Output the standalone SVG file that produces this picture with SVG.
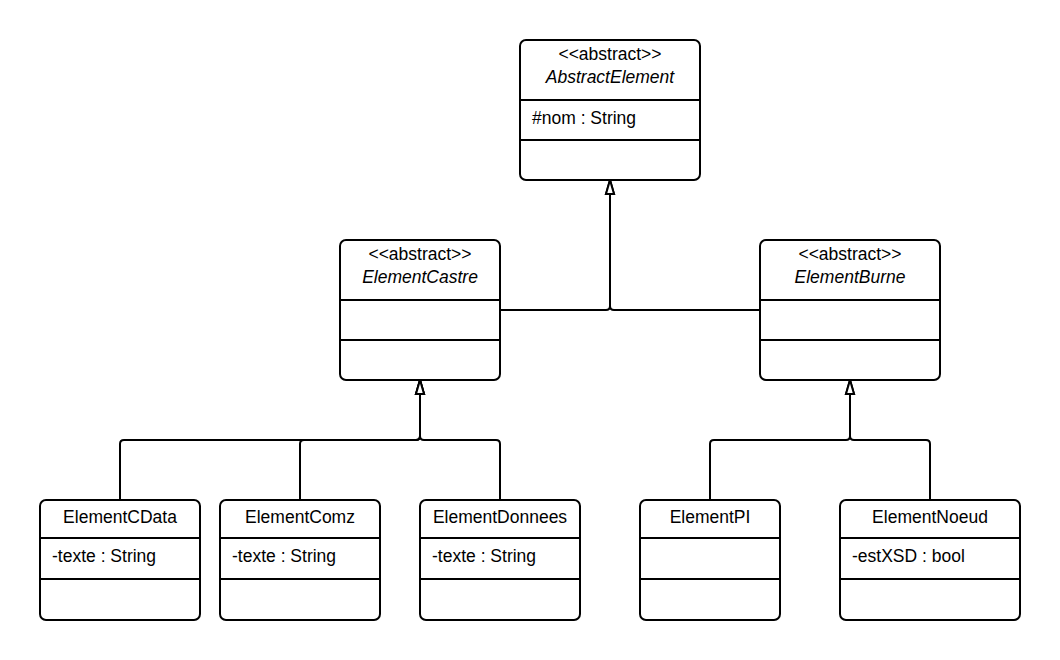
<svg xmlns="http://www.w3.org/2000/svg" width="1060" height="660" viewBox="0 0 1060 660">
<style>
.box{fill:#fff;stroke:#000;stroke-width:2}
.div{stroke:#000;stroke-width:2}
.t{font-family:"Liberation Sans",Arial,sans-serif;font-size:17.5px;fill:#000}
.c{text-anchor:middle}
.i{font-style:italic}
.conn{fill:none;stroke:#000;stroke-width:2}
</style>
<defs>
<marker id="gen" markerUnits="userSpaceOnUse" markerWidth="20" markerHeight="14" viewBox="-2 -7 20 14" refX="16" refY="0" orient="auto">
<path d="M16 0 L2 -4 L2 4 Z" fill="#fff" stroke="#000" stroke-width="2" stroke-linejoin="miter"/>
</marker>
</defs>
<g id="connectors">
<path class="conn" d="M500 310 H606 Q610 310 610 306 V180" marker-end="url(#gen)"/>
<path class="conn" d="M760 310 H614 Q610 310 610 306 V180" marker-end="url(#gen)"/>
<path class="conn" d="M120 500 V444 Q120 440 124 440 H416 Q420 440 420 436 V380" marker-end="url(#gen)"/>
<path class="conn" d="M300 500 V444 Q300 440 304 440 H416 Q420 440 420 436 V380" marker-end="url(#gen)"/>
<path class="conn" d="M500 500 V444 Q500 440 496 440 H424 Q420 440 420 436 V380" marker-end="url(#gen)"/>
<path class="conn" d="M710 500 V444 Q710 440 714 440 H846 Q850 440 850 436 V380" marker-end="url(#gen)"/>
<path class="conn" d="M930 500 V444 Q930 440 926 440 H854 Q850 440 850 436 V380" marker-end="url(#gen)"/>
</g>
<g id="AbstractElement">
<rect class="box" x="520" y="40" width="180" height="140" rx="6"/>
<line class="div" x1="520" y1="100" x2="700" y2="100"/>
<line class="div" x1="520" y1="140" x2="700" y2="140"/>
<text class="t c" x="610" y="60">&lt;&lt;abstract&gt;&gt;</text>
<text class="t c i" x="610" y="83">AbstractElement</text>
<text class="t" x="532" y="124">#nom : String</text>
</g>
<g id="ElementCastre">
<rect class="box" x="340" y="240" width="160" height="140" rx="6"/>
<line class="div" x1="340" y1="300" x2="500" y2="300"/>
<line class="div" x1="340" y1="340" x2="500" y2="340"/>
<text class="t c" x="420" y="260">&lt;&lt;abstract&gt;&gt;</text>
<text class="t c i" x="420" y="283">ElementCastre</text>
</g>
<g id="ElementBurne">
<rect class="box" x="760" y="240" width="180" height="140" rx="6"/>
<line class="div" x1="760" y1="300" x2="940" y2="300"/>
<line class="div" x1="760" y1="340" x2="940" y2="340"/>
<text class="t c" x="850" y="260">&lt;&lt;abstract&gt;&gt;</text>
<text class="t c i" x="850" y="283">ElementBurne</text>
</g>
<g id="ElementCData">
<rect class="box" x="40" y="500" width="160" height="120" rx="6"/>
<line class="div" x1="40" y1="538" x2="200" y2="538"/>
<line class="div" x1="40" y1="579" x2="200" y2="579"/>
<text class="t c" x="120" y="523">ElementCData</text>
<text class="t" x="52" y="562">-texte : String</text>
</g>
<g id="ElementComz">
<rect class="box" x="220" y="500" width="160" height="120" rx="6"/>
<line class="div" x1="220" y1="538" x2="380" y2="538"/>
<line class="div" x1="220" y1="579" x2="380" y2="579"/>
<text class="t c" x="300" y="523">ElementComz</text>
<text class="t" x="232" y="562">-texte : String</text>
</g>
<g id="ElementDonnees">
<rect class="box" x="420" y="500" width="160" height="120" rx="6"/>
<line class="div" x1="420" y1="538" x2="580" y2="538"/>
<line class="div" x1="420" y1="579" x2="580" y2="579"/>
<text class="t c" x="500" y="523">ElementDonnees</text>
<text class="t" x="432" y="562">-texte : String</text>
</g>
<g id="ElementPI">
<rect class="box" x="640" y="500" width="140" height="120" rx="6"/>
<line class="div" x1="640" y1="538" x2="780" y2="538"/>
<line class="div" x1="640" y1="579" x2="780" y2="579"/>
<text class="t c" x="710" y="523">ElementPI</text>
</g>
<g id="ElementNoeud">
<rect class="box" x="840" y="500" width="180" height="120" rx="6"/>
<line class="div" x1="840" y1="538" x2="1020" y2="538"/>
<line class="div" x1="840" y1="579" x2="1020" y2="579"/>
<text class="t c" x="930" y="523">ElementNoeud</text>
<text class="t" x="852" y="562">-estXSD : bool</text>
</g>
</svg>
